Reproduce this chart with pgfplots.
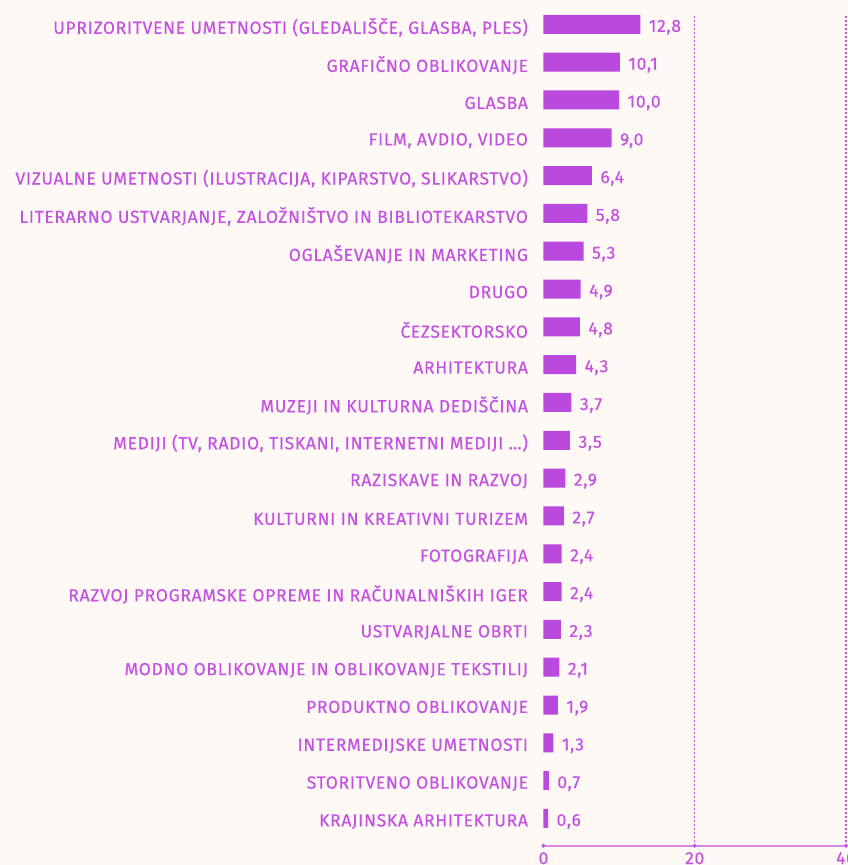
\documentclass[border=0pt]{standalone}
\usepackage{pgfplots}
\pgfplotsset{compat=1.18}
\usepackage{fontspec}
\setmainfont{Fira Sans}
\newfontfamily\lfont{Fira Sans}[LetterSpace=4, FakeBold=0.4]
\definecolor{barc}{HTML}{BA4ADE}
\definecolor{txt}{HTML}{C353E0}
\definecolor{bg}{HTML}{FFF9F6}
\definecolor{axl}{HTML}{D68BE7}
\newcommand{\lf}{\lfont\fontsize{17.5}{19}\selectfont}
\begin{document}
\begin{tikzpicture}
\fill[bg] (-543.5pt,-19.3pt) rectangle (304.5pt,845.7pt);
\begin{axis}[
  scale only axis, width=302.5pt, height=829.7pt,
  xmin=0, xmax=40, ymin=-0.72, ymax=21.22,
  axis x line*=bottom, axis y line*=left,
  x axis line style={axl, line width=1.6pt, -},
  y axis line style={draw=none},
  xtick={20,40}, extra x ticks={0}, extra x tick style={grid=none},
  xticklabels={20,40}, extra x tick labels={0},
  xmajorgrids, grid style={txt, line width=1.4pt, dash pattern=on 1.4pt off 2.6pt},
  major tick length=0pt, tick style={draw=none},
  ytick={0,...,21},
  yticklabels={KRAJINSKA ARHITEKTURA, STORITVENO OBLIKOVANJE, INTERMEDIJSKE UMETNOSTI, PRODUKTNO OBLIKOVANJE, MODNO OBLIKOVANJE IN OBLIKOVANJE TEKSTILIJ, USTVARJALNE OBRTI, RAZVOJ PROGRAMSKE OPREME IN RAČUNALNIŠKIH IGER, FOTOGRAFIJA, KULTURNI IN KREATIVNI TURIZEM, RAZISKAVE IN RAZVOJ, {MEDIJI (TV, RADIO, TISKANI, INTERNETNI MEDIJI …)}, MUZEJI IN KULTURNA DEDIŠČINA, ARHITEKTURA, ČEZSEKTORSKO, DRUGO, OGLAŠEVANJE IN MARKETING, {LITERARNO USTVARJANJE, ZALOŽNIŠTVO IN BIBLIOTEKARSTVO}, {VIZUALNE UMETNOSTI (ILUSTRACIJA, KIPARSTVO, SLIKARSTVO)}, {FILM, AVDIO, VIDEO}, GLASBA, GRAFIČNO OBLIKOVANJE, {UPRIZORITVENE UMETNOSTI (GLEDALIŠČE, GLASBA, PLES)}},
  yticklabel style={anchor=east, xshift=-12pt, yshift=-3pt, text=txt, font=\lf},
  xticklabel style={text=txt, font=\lf, yshift=-3pt},
  clip=false,
]
\addplot[xbar, bar width=19pt, bar shift=0pt, draw=none, fill=barc,
  nodes near coords,
  nodes near coords style={anchor=west, xshift=5pt, yshift=-3pt, text=txt, font=\lf,
     /pgf/number format/.cd, fixed, fixed zerofill, precision=1, use comma, assume math mode=true}]
 coordinates {
(0.6,0) (0.7,1) (1.3,2) (1.9,3) (2.1,4) (2.3,5) (2.4,6) (2.4,7) (2.7,8) (2.9,9)
(3.5,10) (3.7,11) (4.3,12) (4.8,13) (4.9,14) (5.3,15) (5.8,16) (6.4,17) (9.0,18)
(10.0,19) (10.1,20) (12.8,21)};
\addplot[only marks, mark=*, mark size=1.8pt, color=txt]
  coordinates {(0,-0.72) (20,-0.72) (40,-0.72)};
\end{axis}
\pgfresetboundingbox
\useasboundingbox (-543.5pt,-19.3pt) rectangle (304.5pt,845.7pt);
\end{tikzpicture}
\end{document}
